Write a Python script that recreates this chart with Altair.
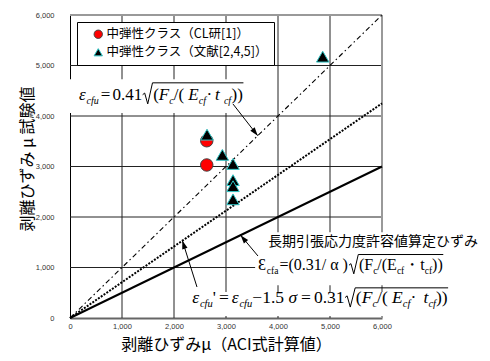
import math
import altair as alt
import pandas as pd

# ---------------- data ----------------
series = ["中弾性クラス（CL研[1]）", "中弾性クラス（文献[2,4,5]）"]
cl_x = [2630, 2630]
cl_y = [3030, 3510]
lit_x = [2635, 2930, 3135, 3135, 3135, 3135, 4860]
lit_y = [3630, 3230, 3050, 2730, 2610, 2350, 5175]

# reference lines through the origin (x from 0 to 6000)
ref_names = ["dashdot", "dotted", "solid"]
ref_x_end = [6000, 6000, 6000]
ref_y_end = [6000, 4250, 3000]

ticks = [0, 1000, 2000, 3000, 4000, 5000, 6000]
grid_vals = [1000, 2000, 3000, 4000, 5000]
border_vals = [6000]

x_title = "剥離ひずみμ（ACI式計算値）"
y_title = "剥離ひずみ μ 試験値"
note_jp = "長期引張応力度許容値算定ひずみ"

# annotation anchors (data units)
F1_AT = (175, 4320)
F2_AT = (3615, 950)
F3_AT = (2350, 300)
JP_AT = (3810, 1505)

# white boxes behind annotations (data units)
box_x1 = [0, 3560, 2300]
box_x2 = [3500, 7000, 7400]
box_y1 = [4060, 650, 40]
box_y2 = [4730, 1700, 515]

# arrows: tail -> head (data units)
arr_tx = [3135, 3615, 2442]
arr_ty = [4237, 1228, 614]
arr_hx = [3610, 3280, 2160]
arr_hy = [3610, 1640, 1535]

# ---------------- geometry ----------------
W, H = 312, 303
XMAX = YMAX = 6000
ux = XMAX / W
uy = YMAX / H

NORM = {'0': .5, '1': .5, '2': .5, '3': .5, '4': .5, '5': .5, '6': .5, '7': .5, '8': .5, '9': .5,
        '.': .25, '(': .333, ')': .333, '/': .278, '=': .564, '−': .564, '·': .25, ' ': .25,
        'F': .556, 'E': .611, 'c': .444, 'f': .333, 'a': .444, 't': .278, 'u': .5, "'": .18,
        'α': .53, 'ε': .44, 'σ': .55, 'Ɛ': .55, '・': 1.0}
ITAL = {'F': .611, 'E': .611, 'c': .444, 'f': .278, 'u': .5, 't': .278, 'ε': .44, 'σ': .55}


def adv(text, ital, size):
    w = 0
    for ch in text:
        if ital and ch in ITAL:
            w += ITAL[ch]
        else:
            w += NORM.get(ch, .5)
    return w * size


def layout(name, pieces, at, main, sub, rad_h):
    x0, y0 = at
    rows, rad = [], []
    x = 0.0
    rad_start = None
    for p in pieces:
        text, role, ital = p[0], p[1], p[2]
        gap = p[3] if len(p) > 3 else 0
        x += gap
        if role == "r":
            rad_start = x
            x += 0.62 * main
            continue
        size = main if role == "m" else sub
        shift = 0 if role == "m" else 0.24 * main
        rows.append(dict(x=x0 + x * ux, y=y0 - shift * uy, t=text, s=size, it=ital))
        x += adv(text, ital, size)
    rs = rad_start
    pts = [(rs, 0.30 * main), (rs + 0.12 * main, 0.40 * main), (rs + 0.30 * main, -0.24 * main),
           (rs + 0.58 * main, rad_h), (x + 0.5, rad_h)]
    for k, (dx, dy) in enumerate(pts):
        rad.append(dict(f=name, k=k, x=x0 + dx * ux, y=y0 + dy * uy))
    return rows, rad


f1 = [("ε", "m", 1), ("cfu", "s", 1), ("=", "m", 0, 2), ("0.41", "m", 0, 2), ("√", "r", 0, 0.5),
      ("(", "m", 0), ("F", "m", 1), ("c", "s", 1), (" /(", "m", 0), ("E", "m", 1), ("cf", "s", 1),
      (" ·", "m", 0, 0.5), (" t", "m", 1), ("cf", "s", 1), ("))", "m", 0, 0.5)]
f2 = [("Ɛ", "m", 0), ("cfa", "s", 0), ("=(0.31/ α )", "m", 0, 1), ("√", "r", 0, 1),
      ("(F", "m", 0), ("c", "s", 0), ("/(E", "m", 0), ("cf", "s", 0), ("・", "m", 0),
      ("t", "m", 0), ("cf", "s", 0), ("))", "m", 0)]
f3 = [("ε", "m", 1), ("cfu", "s", 1), ("'", "m", 0), ("=", "m", 0, 3), ("ε", "m", 1, 3), ("cfu", "s", 1),
      (" −1.5", "m", 0), ("σ", "m", 1), ("=", "m", 0, 3), ("0.31", "m", 0, 3), ("√", "r", 0, 0.5),
      ("(", "m", 0), ("F", "m", 1), ("c", "s", 1), (" /(", "m", 0), ("E", "m", 1), ("cf", "s", 1),
      (" · ", "m", 0), ("t", "m", 1), ("cf", "s", 1), ("))", "m", 0)]

r1, p1 = layout("f1", f1, F1_AT, 17, 10, 17)
r2, p2 = layout("f2", f2, F2_AT, 16, 9.5, 15.5)
r3, p3 = layout("f3", f3, F3_AT, 17.5, 10.5, 15)
txt = pd.DataFrame(r1 + r2 + r3)
rad = pd.DataFrame(p1 + p2 + p3)

# ---------------- tables ----------------
pts = pd.DataFrame({
    "x": cl_x + lit_x,
    "y": cl_y + lit_y,
    "s": [series[0]] * len(cl_x) + [series[1]] * len(lit_x),
})

lines = pd.DataFrame([
    dict(name=n, x=v, y=v * ye / xe)
    for n, xe, ye in zip(ref_names, ref_x_end, ref_y_end) for v in (0, xe)
])

boxes = pd.DataFrame({"x1": box_x1, "x2": box_x2, "y1": box_y1, "y2": box_y2})

ang = []
for tx, ty, hx, hy in zip(arr_tx, arr_ty, arr_hx, arr_hy):
    dx = (hx - tx) / ux
    dy = -(hy - ty) / uy
    ang.append(math.degrees(math.atan2(dx, -dy)) % 360)
arrows = pd.DataFrame({"tx": arr_tx, "ty": arr_ty, "hx": arr_hx, "hy": arr_hy, "a": ang})

jp = pd.DataFrame({"x": [JP_AT[0]], "y": [JP_AT[1]], "t": [note_jp]})

# ---------------- chart ----------------
xs = alt.Scale(domain=[0, XMAX], nice=False, zero=False)
ys = alt.Scale(domain=[0, YMAX], nice=False, zero=False)

x_axis = alt.Axis(values=ticks, format=",d", grid=False, ticks=False, labelFlush=False,
                  labelFont="Liberation Sans", labelFontSize=7.5, labelColor="#333", labelPadding=4,
                  domainColor="#666", domainWidth=2, title=x_title, titleFont="Noto Sans CJK JP",
                  titleFontSize=16, titleFontWeight="normal", titleColor="black", titleY=26,
                  titleBaseline="middle")
y_axis = alt.Axis(values=ticks, format=",d", grid=False, ticks=False,
                  labelFont="Liberation Sans", labelFontSize=7.5, labelColor="#333", labelPadding=16,
                  domainColor="black", domainWidth=1, title=y_title, titleFont="Noto Sans CJK JP",
                  titleFontSize=16, titleFontWeight="normal", titleColor="black", titleAngle=270,
                  titleX=-43, titleY=143.5, titleAlign="center", titleBaseline="middle")


def X(f):
    return alt.X(f, scale=xs, axis=x_axis)


def Y(f):
    return alt.Y(f, scale=ys, axis=y_axis)


gx = alt.Chart(pd.DataFrame({"v": grid_vals})).mark_rule(color="#222", strokeWidth=1).encode(x=X("v:Q"))
gy = alt.Chart(pd.DataFrame({"v": grid_vals})).mark_rule(color="#222", strokeWidth=1).encode(y=Y("v:Q"))
bx = alt.Chart(pd.DataFrame({"v": border_vals})).mark_rule(color="#999", strokeWidth=2).encode(x=X("v:Q"))
by = alt.Chart(pd.DataFrame({"v": border_vals})).mark_rule(color="#999", strokeWidth=2).encode(y=Y("v:Q"))

bg = alt.Chart(boxes).mark_rect(color="white").encode(
    x=X("x1:Q"), x2="x2:Q", y=Y("y1:Q"), y2="y2:Q")


def ref_line(name, **style):
    return alt.Chart(lines[lines.name == name]).mark_line(color="black", **style).encode(
        x=X("x:Q"), y=Y("y:Q"))


l_dd = ref_line("dashdot", strokeWidth=1.1, strokeDash=[5, 3, 1.5, 3])
l_dot = ref_line("dotted", strokeWidth=2, strokeDash=[2, 1.4])
l_sol = ref_line("solid", strokeWidth=2)

a_shaft = alt.Chart(arrows).mark_rule(color="black", strokeWidth=1).encode(
    x=X("tx:Q"), y=Y("ty:Q"), x2="hx:Q", y2="hy:Q")
a_head = alt.Chart(arrows).mark_point(shape="M0,0L-0.55,1.7L0.55,1.7Z", filled=True, color="black",
                                      opacity=1, size=100).encode(
    x=X("hx:Q"), y=Y("hy:Q"), angle=alt.Angle("a:Q", scale=None))

leg = alt.Legend(title=None, labelExpr="datum.label + '　'")
points = alt.Chart(pts).mark_point(filled=True, opacity=1, strokeWidth=1, size=155).encode(
    x=X("x:Q"),
    y=Y("y:Q"),
    shape=alt.Shape("s:N", scale=alt.Scale(domain=series, range=["circle", "triangle-up"]), legend=leg),
    fill=alt.Fill("s:N", scale=alt.Scale(domain=series, range=["#ff0000", "#000000"]), legend=leg),
    stroke=alt.Stroke("s:N", scale=alt.Scale(domain=series, range=["#444444", "#2ec4c4"]), legend=leg),
)

t_norm = alt.Chart(txt[txt.it == 0]).mark_text(font="Liberation Serif", align="left",
                                               baseline="alphabetic", color="black").encode(
    x=X("x:Q"), y=Y("y:Q"), text="t:N", size=alt.Size("s:Q", scale=None))
t_ital = alt.Chart(txt[txt.it == 1]).mark_text(font="Liberation Serif", fontStyle="italic", align="left",
                                               baseline="alphabetic", color="black").encode(
    x=X("x:Q"), y=Y("y:Q"), text="t:N", size=alt.Size("s:Q", scale=None))
t_rad = alt.Chart(rad).mark_line(color="black", strokeWidth=1).encode(
    x=X("x:Q"), y=Y("y:Q"), detail="f:N", order="k:Q")
t_jp = alt.Chart(jp).mark_text(font="Noto Sans CJK JP", fontSize=14, align="left",
                               baseline="middle", color="black").encode(
    x=X("x:Q"), y=Y("y:Q"), text="t:N")

chart = alt.layer(
    gx, gy, bx, by, bg, l_dd, l_dot, l_sol, a_shaft, a_head, points, t_norm, t_ital, t_rad, t_jp
).properties(
    width=W, height=H,
    padding={"left": 62, "top": 7, "right": 97, "bottom": 35},
    autosize=alt.AutoSizeParams(type="none"),
).configure_view(stroke=None).configure_legend(
    orient="top-left", offset=7, padding=6, fillColor="white", strokeColor="black",
    labelFont="Noto Sans CJK JP", labelFontSize=12.5, labelColor="black", symbolSize=70,
    symbolStrokeWidth=1, rowPadding=5, labelOffset=2, symbolOffset=9, labelLimit=400,
)

chart.save("out.html", embed_options={"renderer": "svg", "actions": False})
